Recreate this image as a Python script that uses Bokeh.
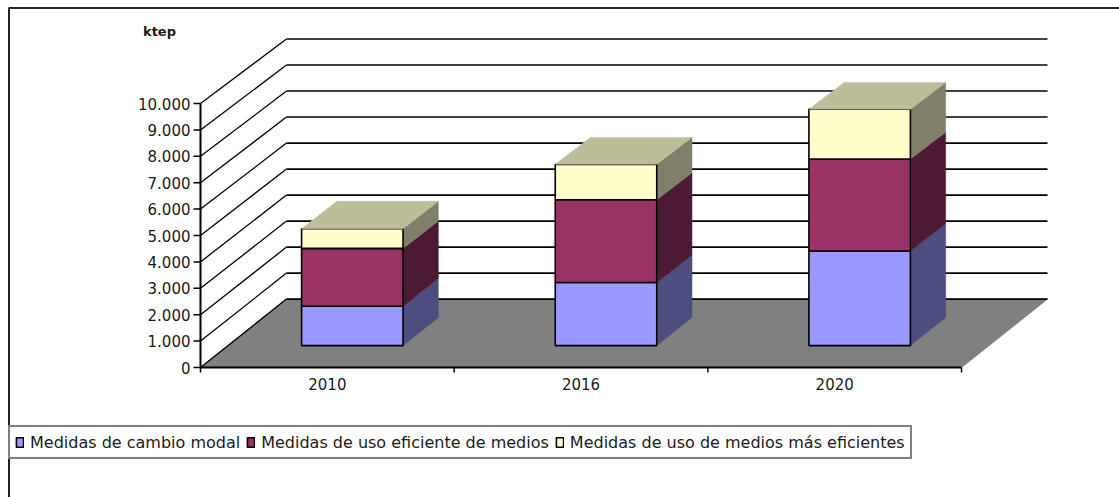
from bokeh.plotting import figure
from bokeh.models import Range1d, Legend, LegendItem
from bokeh.embed import file_html
from bokeh.resources import INLINE
from bokeh.core.properties import value

# ---------------- data ----------------
years = ["2010", "2016", "2020"]
cambio_modal = [1500, 2400, 3600]
uso_eficiente = [2200, 3150, 3500]
medios_eficientes = [750, 1350, 1900]
series_names = [
    "Medidas de cambio modal",
    "Medidas de uso eficiente de medios",
    "Medidas de uso de medios más eficientes",
]
y_ticks = [0, 1000, 2000, 3000, 4000, 5000, 6000, 7000, 8000, 9000, 10000]
y_tick_labels = ["0", "1.000", "2.000", "3.000", "4.000", "5.000",
                 "6.000", "7.000", "8.000", "9.000", "10.000"]
unit_label = "ktep"

# ---------------- styles / layout ----------------
series = [cambio_modal, uso_eficiente, medios_eficientes]
front_colors = ["#9999FF", "#993366", "#FFFFCC"]
side_colors = ["#4D4D80", "#4D1A33", "#80806A"]
top_color = "#BDBD99"
floor_color = "#808080"
FONT = "DejaVu Sans"
TXT = "#1a1a1a"

W, H = 1119, 497
PX_PER_CAT = 253.67
PX_PER_KTEP = 0.0264
AXIS_LEFT = 200     # px from figure left to value axis
AXIS_BOTTOM = 367   # px from figure top to category axis
DEPTH_DX = 86 / PX_PER_CAT
DEPTH_DY = 68.4 / PX_PER_KTEP
SHRINK = 0.015
D0, D1 = 0.32, 0.73
BAR_OFF, BAR_W = 0.49, 0.40

x_start = -AXIS_LEFT / PX_PER_CAT
x_end = (W - AXIS_LEFT) / PX_PER_CAT
y_end = AXIS_BOTTOM / PX_PER_KTEP
y_start = (AXIS_BOTTOM - H) / PX_PER_KTEP


def proj(x, v, d):
    return x + d * DEPTH_DX, v * (1 - SHRINK * d) + d * DEPTH_DY


def sx(px):  # horizontal screen position -> data
    return x_start + px / PX_PER_CAT


def sy(py):  # vertical screen position (from top) -> data
    return y_end - py / PX_PER_KTEP


n = len(years)
vmax = y_ticks[-1]

p = figure(width=W, height=H, x_range=Range1d(x_start, x_end),
           y_range=Range1d(y_start, y_end), x_axis_type=None, y_axis_type=None,
           toolbar_location=None, output_backend="svg", min_border=0,
           outline_line_color=None, background_fill_color="white",
           border_fill_color="white")

# floor
corners = [proj(0, 0, 0), proj(n, 0, 0), proj(n, 0, 1), proj(0, 0, 1)]
p.patch([c[0] for c in corners], [c[1] for c in corners],
        fill_color=floor_color, line_color=floor_color, line_width=1)

# walls' gridlines
bx0, bx1, by, sx0, sy0, sx1, sy1 = [], [], [], [], [], [], []
for v in y_ticks:
    a = proj(0, v, 0)
    b = proj(0, v, 1)
    c = proj(n, v, 1)
    sx0.append(a[0]); sy0.append(a[1]); sx1.append(b[0]); sy1.append(b[1])
    bx0.append(b[0]); bx1.append(c[0]); by.append(b[1])
p.segment(x0=bx0, y0=by, x1=bx1, y1=by, line_color="black", line_width=1.6)
p.segment(x0=sx0, y0=sy0, x1=sx1, y1=sy1, line_color="black", line_width=1.3)

# bars
bottoms = [0] * n
front_renderers = []
for s, vals in enumerate(series):
    tops = [b + v for b, v in zip(bottoms, vals)]
    xs_side, ys_side = [], []
    fx, fb, ft = [], [], []
    for i in range(n):
        xr = i + BAR_OFF + BAR_W / 2
        pts = [proj(xr, bottoms[i], D0), proj(xr, tops[i], D0),
               proj(xr, tops[i], D1), proj(xr, bottoms[i], D1)]
        xs_side.append([q[0] for q in pts])
        ys_side.append([q[1] for q in pts])
        fx.append(proj(i + BAR_OFF, 0, D0)[0])
        fb.append(proj(0, bottoms[i], D0)[1])
        ft.append(proj(0, tops[i], D0)[1])
    p.patches(xs_side, ys_side, fill_color=side_colors[s],
              line_color=side_colors[s], line_width=0.5)
    r = p.vbar(x=fx, bottom=fb, top=ft, width=BAR_W,
               fill_color=front_colors[s], line_color="black", line_width=1.6)
    front_renderers.append(r)
    bottoms = tops

# top faces
xs_top, ys_top = [], []
for i in range(n):
    xl = i + BAR_OFF - BAR_W / 2
    xr = i + BAR_OFF + BAR_W / 2
    T = bottoms[i]
    pts = [proj(xl, T, D0), proj(xr, T, D0), proj(xr, T, D1), proj(xl, T, D1)]
    xs_top.append([q[0] for q in pts])
    ys_top.append([q[1] for q in pts])
p.patches(xs_top, ys_top, fill_color=top_color, line_color=top_color, line_width=0.5)

# value axis
p.segment(x0=[0], y0=[0], x1=[0], y1=[vmax], line_color="black", line_width=2)
tick_len = 7 / PX_PER_CAT
p.segment(x0=[0] * len(y_ticks), y0=y_ticks, x1=[-tick_len] * len(y_ticks),
          y1=y_ticks, line_color="black", line_width=1.5)
p.text(x=[0] * len(y_ticks), y=y_ticks, text=y_tick_labels, x_offset=-10,
       text_align="right", text_baseline="middle", text_font=value(FONT),
       text_font_size="15px", text_color=TXT)
p.text(x=[0], y=[vmax], text=[unit_label], x_offset=-41, y_offset=-72,
       text_align="center", text_baseline="middle", text_font=value(FONT),
       text_font_size="13px", text_font_style="bold", text_color=TXT)

# category axis
p.segment(x0=[0], y0=[0], x1=[n], y1=[0], line_color="black", line_width=2)
cat_ticks = list(range(n + 1))
p.segment(x0=cat_ticks, y0=[0] * len(cat_ticks), x1=cat_ticks,
          y1=[-5 / PX_PER_KTEP] * len(cat_ticks), line_color="black", line_width=1.5)
p.text(x=[i + 0.5 for i in range(n)], y=[0] * n, text=years, y_offset=16,
       text_align="center", text_baseline="middle", text_font=value(FONT),
       text_font_size="15px", text_color=TXT)

# outer chart border (top and left visible)
p.line(x=[sx(8), x_end], y=[sy(7.5)] * 2, line_color="#222222", line_width=2)
p.line(x=[sx(8.5)] * 2, y=[y_start, sy(7.5)], line_color="#222222", line_width=2)

legend = Legend(
    items=[LegendItem(label=nm, renderers=[r]) for nm, r in zip(series_names, front_renderers)],
    orientation="horizontal", location=(8, 38), margin=0, padding=5, spacing=6,
    label_standoff=6, glyph_width=9, glyph_height=12, label_height=20,
    label_text_font=FONT, label_text_font_size="16px", label_text_color=TXT,
    label_text_baseline="middle",
    border_line_color="black", border_line_width=2, background_fill_alpha=1.0)
p.add_layout(legend)

open("out.html", "w").write(file_html(p, INLINE))
